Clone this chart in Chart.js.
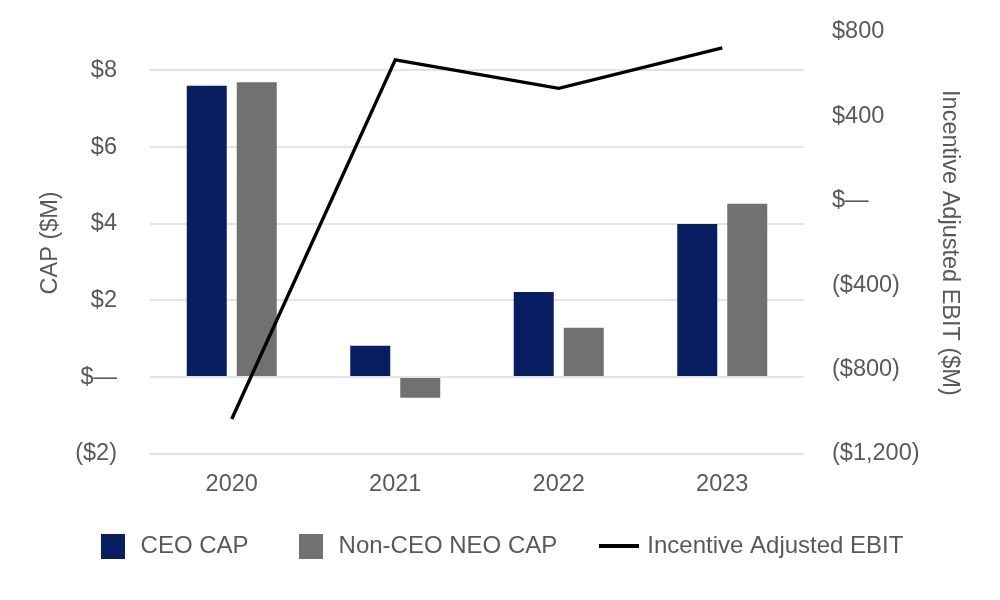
<!DOCTYPE html>
<html>
<head>
<meta charset="utf-8">
<script src="https://cdn.jsdelivr.net/npm/chart.js@4.4.0/dist/chart.umd.min.js"></script>
<style>
  html, body { margin: 0; padding: 0; background: #ffffff; }
  #wrap { width: 1000px; height: 600px; }
</style>
</head>
<body>
<div id="wrap"><canvas id="c" width="1000" height="600"></canvas></div>
<script>
// ---- data ----
const categories = ['2020', '2021', '2022', '2023'];
const ceoCap = [7.60, 0.82, 2.22, 3.99];
const nonCeoCap = [7.69, -0.54, 1.29, 4.52];
const adjustedEbit = [-1035, 668, 533, 725];
const leftTickValues = [-2, 0, 2, 4, 6, 8];
const leftTickLabels = ['($2)', '$\u2014', '$2', '$4', '$6', '$8'];
const rightTickValues = [-1200, -800, -400, 0, 400, 800];
const rightTickLabels = ['($1,200)', '($800)', '($400)', '$\u2014', '$400', '$800'];
const seriesNames = ['CEO CAP', 'Non-CEO NEO CAP', 'Incentive Adjusted EBIT'];

// ---- styles ----
const NAVY = '#071F60';
const GREY = '#717171';
const TEXT = '#595959';
const TICK_FONT = 23.5;

function makeIcon(w, h, color) {
  const cv = document.createElement('canvas');
  cv.width = w; cv.height = h;
  const g = cv.getContext('2d');
  g.fillStyle = color;
  g.fillRect(0, 0, w, h);
  return cv;
}

Chart.defaults.font.family = "'Liberation Sans', Arial, sans-serif";
Chart.defaults.font.size = TICK_FONT;
Chart.defaults.color = TEXT;

const legendPlacer = {
  id: 'legendPlacer',
  afterLayout(chart) {
    const lg = chart.legend;
    if (lg) {
      lg.top = 488;
      lg.bottom = 600;
      lg.height = 112;
    }
  }
};

function fixVertical(width) {
  return (s) => { s.width = width; s.paddingTop = 0; s.paddingBottom = 0; };
}

new Chart(document.getElementById('c'), {
  data: {
    labels: categories,
    datasets: [
      {
        type: 'bar', label: seriesNames[0], data: ceoCap, yAxisID: 'y',
        backgroundColor: NAVY, borderWidth: 0, order: 1,
        barPercentage: 0.8, categoryPercentage: 0.6116,
        pointStyle: makeIcon(24, 25, NAVY)
      },
      {
        type: 'bar', label: seriesNames[1], data: nonCeoCap, yAxisID: 'y',
        backgroundColor: GREY, borderWidth: 0, order: 1,
        barPercentage: 0.8, categoryPercentage: 0.6116,
        pointStyle: makeIcon(24, 25, GREY)
      },
      {
        type: 'line', label: seriesNames[2], data: adjustedEbit, yAxisID: 'y1',
        borderColor: '#000000', backgroundColor: '#000000', borderWidth: 3.4,
        pointRadius: 0, tension: 0, borderJoinStyle: 'miter', order: 0,
        pointStyle: makeIcon(40, 4, '#000000')
      }
    ]
  },
  plugins: [legendPlacer],
  options: {
    responsive: false,
    animation: false,
    devicePixelRatio: 1,
    layout: { padding: { top: 32, bottom: 24, left: 0, right: 0 } },
    plugins: {
      tooltip: { enabled: false },
      legend: {
        position: 'bottom',
        maxHeight: 60,
        labels: {
          usePointStyle: true,
          pointStyleWidth: 32,
          boxWidth: 24, boxHeight: 24,
          padding: 46,
          color: TEXT,
          font: { size: 24 },
          sort: (a, b) => a.datasetIndex - b.datasetIndex
        }
      }
    },
    scales: {
      x: {
        offset: true,
        grid: { display: false, drawTicks: false },
        border: { display: false },
        ticks: { padding: 17, color: TEXT }
      },
      y: {
        position: 'left',
        min: -2, max: 9,
        afterBuildTicks: (s) => { s.ticks = leftTickValues.map(v => ({ value: v })); },
        afterFit: fixVertical(150),
        ticks: {
          padding: 33, color: TEXT,
          callback: (v) => { const i = leftTickValues.indexOf(v); return i >= 0 ? leftTickLabels[i] : ''; }
        },
        grid: { color: '#E4E4E4', lineWidth: 2, drawTicks: false },
        border: { display: false },
        title: { display: true, text: 'CAP ($M)', color: TEXT, font: { size: 23.5 }, padding: { top: 36, bottom: 0 } }
      },
      y1: {
        position: 'right',
        min: -1200, max: 800,
        afterBuildTicks: (s) => { s.ticks = rightTickValues.map(v => ({ value: v })); },
        afterFit: fixVertical(196),
        ticks: {
          padding: 28, color: TEXT,
          callback: (v) => { const i = rightTickValues.indexOf(v); return i >= 0 ? rightTickLabels[i] : ''; }
        },
        grid: { display: false, drawTicks: false },
        border: { display: false },
        title: { display: true, text: 'Incentive Adjusted EBIT ($M)', color: TEXT, font: { size: 23.5 }, padding: { top: 36, bottom: 0 } }
      }
    }
  }
});
</script>
</body>
</html>
